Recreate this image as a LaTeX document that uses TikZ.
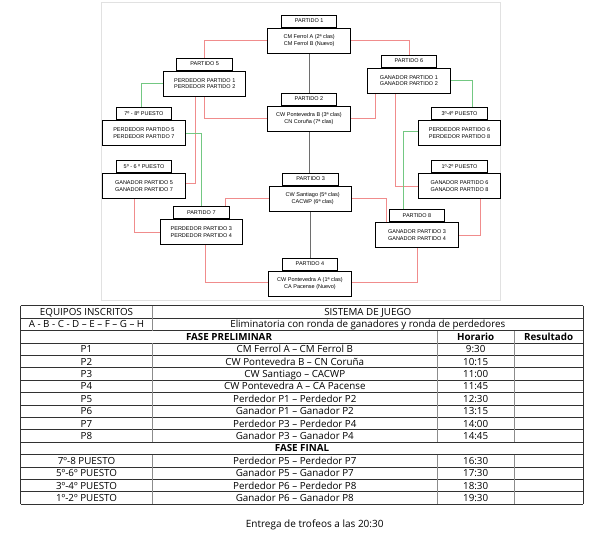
\documentclass[tikz,border=0pt]{standalone}
\usepackage{fontspec}
\setmainfont{Open Sans}
\newfontfamily\dfam{Liberation Sans}
\pgfdeclarelayer{paper}
\pgfdeclarelayer{links}
\pgfsetlayers{paper,links,main}
\definecolor{redl}{RGB}{240,140,140}
\definecolor{greenl}{RGB}{115,200,130}
\definecolor{grayl}{RGB}{110,110,110}
\definecolor{framec}{RGB}{225,225,225}
\definecolor{tabline}{RGB}{50,50,50}
\definecolor{tabvert}{RGB}{140,140,140}
\begin{document}
\begin{tikzpicture}[x=1pt,y=-1pt,
  tbox/.style={draw=black, line width=1pt, fill=white, minimum width=55.5pt, minimum height=12pt, inner sep=0pt, font=\dfam\fontsize{5.5}{6.7}\selectfont},
  mbox/.style={draw=black, line width=1pt, fill=white, minimum width=82.5pt, minimum height=25pt, inner sep=0pt, align=center, font=\dfam\fontsize{5.5}{6.7}\selectfont},
  rl/.style={draw=redl, line width=0.7pt},
  gl/.style={draw=greenl, line width=0.7pt},
  kl/.style={draw=grayl, line width=0.7pt},
  cell/.style={inner sep=0pt, text height=7pt, text depth=0pt, anchor=center, font=\fontsize{9.8}{11}\selectfont},
  hline/.style={draw=tabline, line width=0.7pt},
  vline/.style={draw=tabvert, line width=0.7pt}]
\useasboundingbox (0,0) rectangle (599,541);
\begin{pgfonlayer}{paper}
\fill[white] (0,0) rectangle (599,541);
\draw[framec, line width=0.8pt] (101.5,2.5) rectangle (500,300);
\end{pgfonlayer}

% ---------- bracket boxes ----------
\node[mbox] (p1m) at (309.2,40.6) {CM Ferrol A (2ª clas)\\CM Ferrol B (Nuevo)};
\node[tbox, anchor=south] (p1t) at (p1m.north) {PARTIDO 1};
\node[mbox] (p2m) at (309.0,118.6) {CW Pontevedra B (3ª clas)\\CN Coruña (7ª clas)};
\node[tbox, anchor=south] (p2t) at (p2m.north) {PARTIDO 2};
\node[mbox] (p3m) at (310.7,198.5) {\hspace*{4pt}CW Santiago (5ª clas)\\\hspace*{4pt}CACWP (6ª clas)};
\node[tbox, anchor=south] (p3t) at (p3m.north) {PARTIDO 3};
\node[mbox] (p4m) at (310.0,283.5) {CW Pontevedra A (1ª clas)\\CA Pacense (Nuevo)};
\node[tbox, anchor=south] (p4t) at (p4m.north) {PARTIDO 4};
\node[mbox] (p5m) at (204.7,83.6) {PERDEDOR PARTIDO 1\\PERDEDOR PARTIDO 2};
\node[tbox, anchor=south] (p5t) at (p5m.north) {PARTIDO 5};
\node[mbox] (p6m) at (408.9,80.6) {GANADOR PARTIDO 1\\GANADOR PARTIDO 2};
\node[tbox, anchor=south] (p6t) at (p6m.north) {PARTIDO 6};
\node[mbox] (p7m) at (201.3,232.2) {PERDEDOR PARTIDO 3\\PERDEDOR PARTIDO 4};
\node[tbox, anchor=south] (p7t) at (p7m.north) {PARTIDO 7};
\node[mbox] (p8m) at (417.0,234.9) {GANADOR PARTIDO 3\\GANADOR PARTIDO 4};
\node[tbox, anchor=south] (p8t) at (p8m.north) {PARTIDO 8};
\node[mbox] (m78) at (143.9,133.3) {PERDEDOR PARTIDO 5\\PERDEDOR PARTIDO 7};
\node[tbox, anchor=south] (t78) at (m78.north) {7º - 8º PUESTO};
\node[mbox] (m56) at (144.0,185.9) {GANADOR PARTIDO 5\\GANADOR PARTIDO 7};
\node[tbox, anchor=south] (t56) at (m56.north) {5º - 6 º PUESTO};
\node[mbox] (m34) at (459.5,133.3) {PERDEDOR PARTIDO 6\\PERDEDOR PARTIDO 8};
\node[tbox, anchor=south] (t34) at (m34.north) {3º-4º PUESTO};
\node[mbox] (m12) at (459.5,185.9) {GANADOR PARTIDO 6\\GANADOR PARTIDO 8};
\node[tbox, anchor=south] (t12) at (m12.north) {1º-2º PUESTO};

% ---------- connectors ----------
\begin{pgfonlayer}{links}
\draw[rl] (p1m.west) -| (p5t.north);
\draw[rl] (p1m.east) -| (p6t.north);
\draw[kl] (p1m.south) -- (p1m.south |- p2t.north);
\draw[kl] (p2m.south) -- (p2m.south |- p3t.north);
\draw[kl] (p3m.south) -- (p3m.south |- p4t.north);
\draw[gl] (p5m.west) -| ([xshift=-3pt]t78.north);
\draw[rl] ([xshift=-9.7pt]p5m.south) |- ([yshift=3pt]m56.east);
\draw[rl] (p5m.south) |- (p2m.west);
\draw[rl] ([xshift=-33.6pt]p6m.south) |- (p2m.east);
\draw[rl] ([xshift=-13.9pt]p6m.south) |- (m12.west);
\draw[gl] (p6m.east) -| ([xshift=13pt]t34.north);
\draw[gl] (m78.east) -| (p7t.north);
\draw[rl] ([xshift=-9.3pt]m56.south) |- (p7m.west);
\draw[rl] (p3m.west) -| ([xshift=24pt]p7t.north);
\draw[rl] (p3m.east) -| ([xshift=-30.3pt]p8m.north);
\draw[gl] ([yshift=2.3pt]m34.west) -| ([xshift=-13.5pt]p8t.north);
\draw[rl] ([xshift=20.5pt]m12.south) |- (p8m.east);
\draw[rl] ([xshift=4.4pt]p7m.south) |- ([yshift=1.5pt]p4m.west);
\draw[rl] (p8m.south) |- ([yshift=1pt]p4m.east);
\end{pgfonlayer}

% ---------- table ----------
\foreach \i in {0,...,16}{
  \draw[hline] (20.7,305.7+12.4*\i) -- (583.3,305.7+12.4*\i);
}
\draw[hline] (20.7,305.7) -- (20.7,504.1);
\draw[hline] (583.3,305.7) -- (583.3,504.1);
\draw[vline] (152.3,305.7) -- (152.3,330.5);
\draw[vline] (152.3,342.9) -- (152.3,442.1);
\draw[vline] (152.3,454.5) -- (152.3,504.1);
\draw[vline] (437.3,330.5) -- (437.3,442.1);
\draw[vline] (437.3,454.5) -- (437.3,504.1);
\draw[vline] (514,330.5) -- (514,442.1);
\draw[vline] (514,454.5) -- (514,504.1);

\node[cell] (eq) at (86.5,311.9) {EQUIPOS INSCRITOS};
\node[cell] (sj) at (367.8,311.9) {SISTEMA DE JUEGO};
\node[cell] (letters) at (86.5,324.3) {A - B - C - D – E – F – G – H};
\node[cell] (elim) at (367.8,324.3) {Eliminatoria con ronda de ganadores y ronda de perdedores};
\node[cell, font=\fontsize{9.8}{11}\selectfont\bfseries] (fp) at (229,336.7) {FASE PRELIMINAR};
\node[cell, font=\fontsize{9.8}{11}\selectfont\bfseries] (hor) at (475.65,336.7) {Horario};
\node[cell, font=\fontsize{9.8}{11}\selectfont\bfseries] (res) at (548.65,336.7) {Resultado};
\foreach \i/\a/\b/\c in {
  3/P1/CM Ferrol A – CM Ferrol B/9:30,
  4/P2/CW Pontevedra B – CN Coruña/10:15,
  5/P3/CW Santiago – CACWP/11:00,
  6/P4/CW Pontevedra A – CA Pacense/11:45,
  7/P5/Perdedor P1 – Perdedor P2/12:30,
  8/P6/Ganador P1 – Ganador P2/13:15,
  9/P7/Perdedor P3 – Perdedor P4/14:00,
  10/P8/Ganador P3 – Ganador P4/14:45,
  12/7º-8 PUESTO/Perdedor P5 – Perdedor P7/16:30,
  13/5º-6º PUESTO/Ganador P5 – Ganador P7/17:30,
  14/3º-4º PUESTO/Perdedor P6 – Perdedor P8/18:30,
  15/1º-2º PUESTO/Ganador P6 – Ganador P8/19:30}{
  \node[cell] (ca\i) at (86.5,311.9+12.4*\i) {\a};
  \node[cell] (cb\i) at (294.8,311.9+12.4*\i) {\b};
  \node[cell] (cc\i) at (475.65,311.9+12.4*\i) {\c};
}
\node[cell, font=\fontsize{9.8}{11}\selectfont\bfseries] (ff) at (302,448.3) {FASE FINAL};
\node[cell, font=\fontsize{10}{12}\selectfont] (trofeos) at (314.7,524) {Entrega de trofeos a las 20:30};
\end{tikzpicture}
\end{document}
